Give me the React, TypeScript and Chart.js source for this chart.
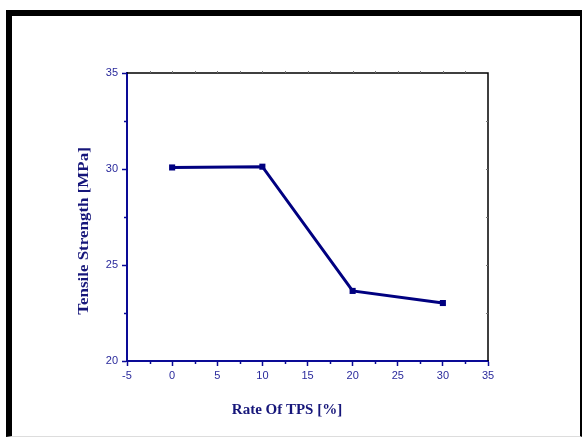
import React, { useEffect, useRef } from 'react';
import { Chart, registerables } from 'chart.js';
Chart.register(...registerables);

const rateOfTPS = [0, 10, 20, 30];
const tensileStrength = [30.08, 30.12, 23.65, 23.02];
const xMinorTicks = [-2.5, 2.5, 7.5, 12.5, 17.5, 22.5, 27.5, 32.5];
const yMinorTicks = [22.5, 27.5, 32.5];
const topRightTicksX = [-2.5, 0, 2.5, 5, 7.5, 10, 12.5, 15, 17.5, 20, 22.5, 25, 27.5, 30, 32.5];
const topRightTicksY = [22.5, 25, 27.5, 30, 32.5];
const xTitle = 'Rate Of TPS [%]';
const yTitle = 'Tensile Strength [MPa]';

const BLUE = '#0a0a96';
const NAVY = '#000080';
const LABEL = '#2a2a9c';
const TITLE = '#16167a';

const decorPlugin = {
  id: 'decor',
  afterDraw(chart: any) {
    const ctx = chart.ctx;
    const a = chart.chartArea;
    const xs = chart.scales.x;
    const ys = chart.scales.y;
    ctx.save();
    ctx.strokeStyle = BLUE;
    ctx.lineWidth = 1.5;
    xMinorTicks.forEach((v) => {
      const px = Math.round(xs.getPixelForValue(v)) + 0.5;
      ctx.beginPath();
      ctx.moveTo(px, a.bottom);
      ctx.lineTo(px, a.bottom + 3);
      ctx.stroke();
    });
    yMinorTicks.forEach((v) => {
      const py = Math.round(ys.getPixelForValue(v)) + 0.5;
      ctx.beginPath();
      ctx.moveTo(a.left - 3, py);
      ctx.lineTo(a.left, py);
      ctx.stroke();
    });
    ctx.strokeStyle = '#000';
    ctx.lineWidth = 1.5;
    ctx.beginPath();
    ctx.moveTo(a.left, a.top);
    ctx.lineTo(a.right, a.top);
    ctx.lineTo(a.right, a.bottom);
    ctx.stroke();
    ctx.strokeStyle = '#777';
    ctx.lineWidth = 1;
    topRightTicksX.forEach((v) => {
      const px = Math.round(xs.getPixelForValue(v)) + 0.5;
      ctx.beginPath();
      ctx.moveTo(px, a.top);
      ctx.lineTo(px, a.top - 2);
      ctx.stroke();
    });
    topRightTicksY.forEach((v) => {
      const py = Math.round(ys.getPixelForValue(v)) + 0.5;
      ctx.beginPath();
      ctx.moveTo(a.right, py);
      ctx.lineTo(a.right - 2, py);
      ctx.stroke();
    });
    ctx.fillStyle = TITLE;
    ctx.font = 'bold 15px "Liberation Serif", "Times New Roman", serif';
    ctx.textAlign = 'center';
    ctx.textBaseline = 'middle';
    ctx.fillText(xTitle, a.left + 160, 410);
    ctx.translate(84, 231);
    ctx.rotate(-Math.PI / 2);
    ctx.scale(1.13, 1);
    ctx.fillText(yTitle, 0, 0);
    ctx.restore();
  },
};

export default function App() {
  const ref = useRef<HTMLCanvasElement | null>(null);
  useEffect(() => {
    if (!ref.current) return;
    const chart = new Chart(ref.current, {
      type: 'line',
      data: {
        datasets: [
          {
            data: rateOfTPS.map((x, i) => ({ x, y: tensileStrength[i] })),
            borderColor: NAVY,
            backgroundColor: NAVY,
            borderWidth: 3,
            pointStyle: 'rect',
            pointRadius: 4.3,
            pointBorderWidth: 0,
            pointBackgroundColor: NAVY,
            tension: 0,
          },
        ],
      },
      options: {
        responsive: false,
        animation: false,
        devicePixelRatio: 1,
        layout: { padding: { left: 0, top: 73, right: 94, bottom: 0 } },
        plugins: { legend: { display: false }, tooltip: { enabled: false } },
        scales: {
          x: {
            type: 'linear',
            min: -5,
            max: 35,
            ticks: {
              stepSize: 5,
              color: LABEL,
              padding: 3,
              maxRotation: 0,
              font: { family: '"Liberation Sans", Arial, sans-serif', size: 11 },
            },
            grid: { drawOnChartArea: false, tickLength: 5, tickColor: BLUE, tickWidth: 1.5 },
            border: { color: BLUE, width: 2 },
            afterFit: (s: any) => { s.height = 76; },
          },
          y: {
            type: 'linear',
            min: 20,
            max: 35,
            ticks: {
              stepSize: 5,
              color: LABEL,
              padding: 4,
              font: { family: '"Liberation Sans", Arial, sans-serif', size: 11 },
            },
            grid: { drawOnChartArea: false, tickLength: 5, tickColor: BLUE, tickWidth: 1.5 },
            border: { color: BLUE, width: 2 },
            afterFit: (s: any) => { s.width = 127; },
          },
        },
      },
      plugins: [decorPlugin],
    } as any);
    return () => chart.destroy();
  }, []);
  return (
    <div style={{ position: 'fixed', left: 0, top: 0, width: 582, height: 437, background: '#fff', overflow: 'hidden' }}>
      <div
        style={{
          position: 'absolute',
          left: 6,
          top: 10,
          width: 582 - 6 - 6 - 2,
          height: 437 - 10 - 6 - 1,
          borderLeft: '6px solid #000',
          borderTop: '6px solid #000',
          borderRight: '2px solid #000',
          borderBottom: '1px solid #ddd',
        }}
      />
      <canvas ref={ref} width={582} height={437} style={{ position: 'absolute', left: 0, top: 0, display: 'block' }} />
    </div>
  );
}
